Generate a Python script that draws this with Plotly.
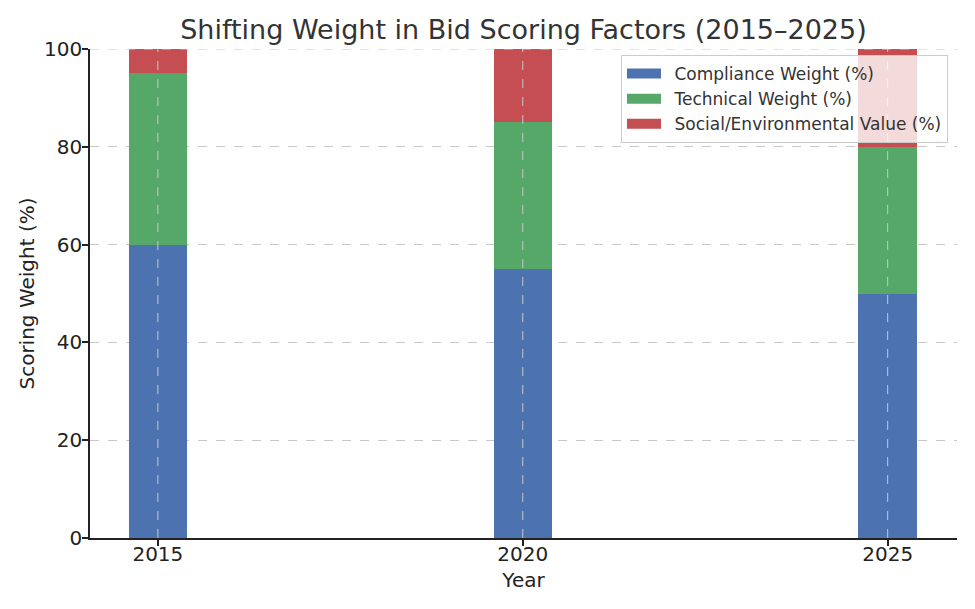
import plotly.graph_objects as go

years = [2015, 2020, 2025]
compliance = [60, 55, 50]
technical = [35, 30, 30]
social = [5, 15, 20]
series_names = ["Compliance Weight (%)", "Technical Weight (%)", "Social/Environmental Value (%)"]
colors = ["#4C72B0", "#55A868", "#C44E52"]
y_ticks = [0, 20, 40, 60, 80, 100]

fig = go.Figure()
for name, vals, c in zip(series_names, [compliance, technical, social], colors):
    fig.add_trace(go.Bar(x=years, y=vals, name=name, marker=dict(color=c, line=dict(width=0)),
                         width=0.8, showlegend=False, legendgroup=name))
# legend entries drawn as wide patches
for name, c in zip(series_names, colors):
    fig.add_trace(go.Scatter(x=[None], y=[None], mode="lines", name="\u2002" + name, legendgroup=name,
                             line=dict(color=c, width=13)))

grid = dict(color="#c8c8c8", width=1, dash="dash")
for yr in years:
    fig.add_shape(type="line", xref="x", yref="paper", x0=yr, x1=yr, y0=0, y1=1, line=grid, layer="above")
fig.add_shape(type="line", xref="paper", yref="y", x0=0, x1=1, y0=y_ticks[-1], y1=y_ticks[-1], line=grid, layer="above")

fig.update_layout(
    barmode="stack",
    width=967, height=601,
    paper_bgcolor="white", plot_bgcolor="white",
    font=dict(family="DejaVu Sans", color="#222222"),
    title=dict(text="Shifting Weight in Bid Scoring Factors (2015–2025)", x=0.5, xref="paper",
               xanchor="center", y=0.964, yanchor="middle", font=dict(size=27, color="#333333")),
    margin=dict(l=82, r=18, t=41, b=71),
    legend=dict(x=0.9896, y=0.9876, xanchor="right", yanchor="top",
                bgcolor="rgba(255,255,255,0.8)", bordercolor="#cccccc", borderwidth=1,
                font=dict(size=17, color="#333333"), traceorder="normal",
                itemwidth=34, tracegroupgap=0),
    xaxis=dict(range=[2014.07, 2025.95], tickvals=years, ticktext=[str(y) for y in years],
               showgrid=False, automargin=False,
               showline=True, linecolor="#222222", linewidth=1.5,
               ticks="outside", ticklen=6, tickcolor="#222222", tickwidth=1.5,
               tickfont=dict(size=20, color="#222222"), ticklabelstandoff=-9,
               title=dict(text="Year", font=dict(size=20, color="#222222"), standoff=8),
               layer="above traces", zeroline=False),
    yaxis=dict(range=[0, 100], tickvals=y_ticks, automargin=False,
               showgrid=True, gridcolor="#c8c8c8", griddash="dash", gridwidth=1,
               showline=True, linecolor="#222222", linewidth=1.5,
               ticks="outside", ticklen=6, tickcolor="#222222", tickwidth=1.5,
               tickfont=dict(size=20, color="#222222"), ticklabelstandoff=-4,
               title=dict(text="Scoring Weight (%)", font=dict(size=20, color="#222222"), standoff=4),
               layer="above traces", zeroline=False),
)

fig.write_html("out.html")
